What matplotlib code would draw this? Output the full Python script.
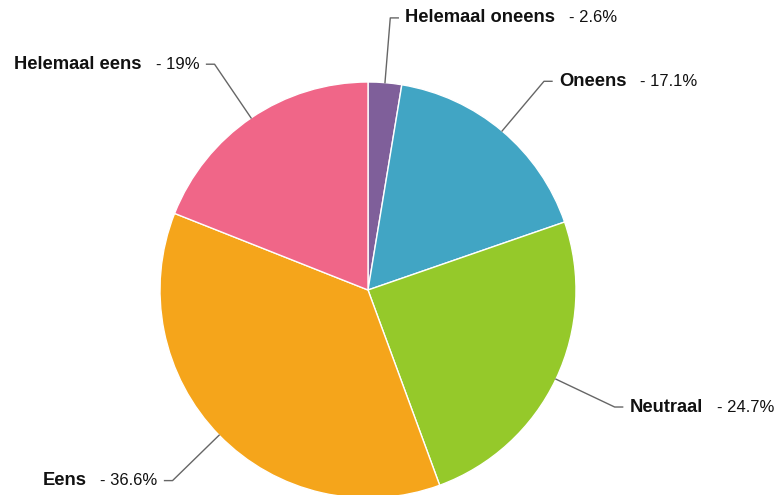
import numpy as np
import matplotlib
matplotlib.use("Agg")
import matplotlib.pyplot as plt

plt.rcParams["font.family"] = ["Liberation Sans", "DejaVu Sans"]

# data, clockwise from 12 o'clock
labels = ["Helemaal oneens", "Oneens", "Neutraal", "Eens", "Helemaal eens"]
values = [2.6, 17.1, 24.7, 36.6, 19.0]
value_texts = ["2.6%", "17.1%", "24.7%", "36.6%", "19%"]
colors = ["#7f5f9a", "#41a5c4", "#95c92a", "#f5a51b", "#f06688"]

W, H = 783, 495
cx, cy, r = 368, H - 290, 208

fig = plt.figure(figsize=(W / 100, H / 100), dpi=100)
ax = fig.add_axes([0, 0, 1, 1])

wedges, _ = ax.pie(values, colors=colors, startangle=90, counterclock=False,
                   center=(cx, cy), radius=r,
                   wedgeprops=dict(edgecolor="white", linewidth=1))
ax.set_xlim(0, W)
ax.set_ylim(0, H)
ax.set_aspect("equal")
ax.axis("off")

renderer = fig.canvas.get_renderer()
fs_bold, fs_norm = 13.2, 12
for w, lab, vt in zip(wedges, labels, value_texts):
    ang = np.deg2rad((w.theta1 + w.theta2) / 2)
    c, s = np.cos(ang), np.sin(ang)
    x0, y0 = cx + r * c, cy + r * s
    x1, y1 = cx + (r + 65) * c, cy + (r + 65) * s
    side = 1 if c >= 0 else -1
    x2 = x1 + 8 * side
    ax.plot([x0, x1, x2], [y0, y1, y1], color="#666666", lw=1)
    tx = x2 + 7 * side
    if side > 0:
        t1 = ax.text(tx, y1, lab, fontsize=fs_bold, fontweight="bold",
                     ha="left", va="center", color="#111111")
        bb = t1.get_window_extent(renderer)
        ax.text(bb.x1 + 14, y1, "- " + vt, fontsize=fs_norm, ha="left",
                va="center", color="#111111")
    else:
        t2 = ax.text(tx, y1, "- " + vt, fontsize=fs_norm, ha="right",
                     va="center", color="#111111")
        bb = t2.get_window_extent(renderer)
        ax.text(bb.x0 - 14, y1, lab, fontsize=fs_bold, fontweight="bold",
                ha="right", va="center", color="#111111")

fig.savefig("out.png", dpi=100)
